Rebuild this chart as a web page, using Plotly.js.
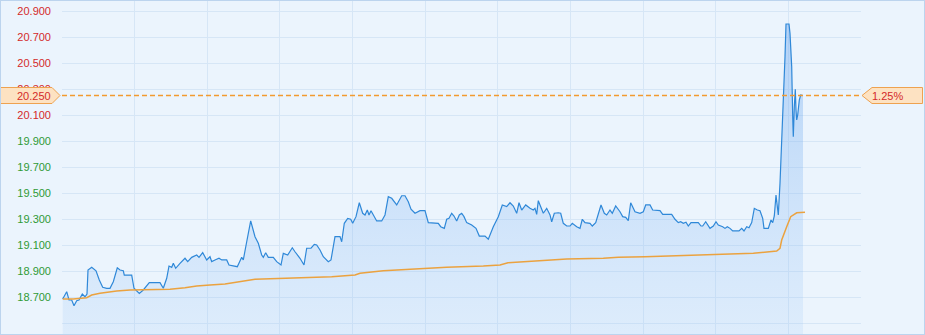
<!DOCTYPE html>
<html><head><meta charset="utf-8">
<script src="https://cdn.plot.ly/plotly-3.0.1.min.js"></script>
<style>
html,body{margin:0;padding:0;background:#ebf4fd;}
#wrap{position:relative;width:925px;height:335px;}
#chart{width:925px;height:335px;}
#frame{position:absolute;left:0;top:0;width:925px;height:335px;box-sizing:border-box;border:1px solid #bcd4ee;pointer-events:none;}
</style></head><body>
<div id="wrap"><div id="chart"></div><div id="frame"></div></div>
<script>
// reference (previous close) and last price
const prevClose = 20.00;
const lastPrice = 20.25;

// intraday price: time position and value
const priceT = [
  0.7,4.7,7,9.7,12,14.7,17,20.3,23,25,26,29.7,34,37.3,40.7,44.7,48,51.3,55.3,58,
  61.3,62.3,69.7,72,77.3,81.3,87.3,98,101.3,104.7,107,109.7,111.3,113.7,118,123,125.7,129.7,134.7,137,
  140.7,144.7,148,
  149.7,153,157,159.7,164.7,167,175.3,179.7,181.3,184.7,188.7,193,196.3,199.7,201.3,203.7,206.3,211.3,214.7,219,
  221.3,225.7,230.3,233,238,242,244.7,249,252.3,254.7,258,261.3,266.3,269,273,278,279.7,282.3,285.7,288.7,
  290.7,
  294,297.3,300.7,303,305.3,307,309,311.3,314.7,319.7,323,326.3,329.7,334.7,339.7,343,346.3,349,353,358,
  363,366.3,371.3,376.3,378.7,382.3,384.7,387,389.7,392,394.7,397.3,399.7,402,404.7,409.7,414,417.3,423,426.3,
  431.3,436.3,
  440.3,444.7,448,451.3,454.7,457,459.7,463.7,468,471.3,473,474.7,476.3,479.7,481.3,484.7,488,489.7,492.3,496.3,
  498.7,501.3,504.7,508,510.3,514.7,518,520.3,523,528,530.3,533.7,536.3,539,542.3,544.7,548,550.3,553.7,558,
  560.7,563.7,566.3,568.7,573,578,
  581.3,583.7,588,590.7,598,600.7,609.7,613,616.3,618.7,621.3,624,626.3,629,636.3,639,640.7,643.7,648,651.3,
  654,656.3,660.7,663,665.3,668,670.7,677,679.7,682,684.7,687,689.7,692.3,695.3,698,700.7,702,706.3,709,
  710.7,712.3,714,715.3,716.3,
  718,719,720.3,721.3,723,724,727,728,729.7,730.7,731.3,732.3,733.3,734,734.7,735.7,737.3,738.7,741
];
const price = [
  18.685,18.741,18.677,18.677,18.633,18.672,18.677,18.723,18.702,18.723,18.908,18.928,18.902,18.831,18.775,18.767,18.767,18.818,18.925,18.908,
  18.902,18.869,18.869,18.767,18.728,18.754,18.810,18.810,18.767,18.844,18.938,18.928,18.959,18.921,18.959,18.998,18.972,19.005,19.023,19.005,
  19.041,18.985,19.010,
  18.972,18.985,18.998,18.985,18.985,18.946,18.933,19.005,18.985,19.125,19.285,19.164,19.113,19.023,19.005,19.041,19.005,19.005,18.972,18.946,
  19.036,19.023,19.079,19.048,18.998,18.946,19.075,19.075,19.105,19.100,19.062,19.010,18.972,18.985,19.164,19.164,19.125,19.267,19.305,19.298,
  19.267,
  19.318,19.425,19.344,19.331,19.369,19.331,19.364,19.331,19.285,19.285,19.331,19.472,19.459,19.408,19.479,19.479,19.433,19.375,19.344,19.364,
  19.364,19.272,19.267,19.267,19.241,19.228,19.298,19.305,19.344,19.323,19.285,19.331,19.344,19.318,19.272,19.254,19.228,19.169,19.169,19.144,
  19.241,19.318,
  19.408,19.395,19.425,19.400,19.344,19.425,19.369,19.408,19.382,19.369,19.382,19.336,19.441,19.382,19.344,19.382,19.331,19.279,19.344,19.348,
  19.344,19.267,19.246,19.246,19.267,19.241,19.228,19.298,19.272,19.267,19.246,19.272,19.344,19.408,19.344,19.331,19.369,19.344,19.400,19.356,
  19.318,19.313,19.287,19.425,19.356,19.344,
  19.356,19.408,19.408,19.369,19.364,19.336,19.336,19.298,19.272,19.279,19.267,19.275,19.246,19.272,19.272,19.246,19.246,19.279,19.228,19.246,
  19.279,19.254,19.241,19.228,19.241,19.228,19.208,19.208,19.228,19.208,19.241,19.233,19.272,19.382,19.369,19.364,19.305,19.228,19.228,19.292,
  19.272,19.323,19.485,19.408,19.331,
  19.575,19.754,20.087,20.241,20.548,20.800,20.800,20.728,20.472,20.087,19.933,20.164,20.298,20.138,20.062,20.100,20.215,20.254,20.250
];

// average price line
const avgT = [0.7,11.3,24.7,29.7,38,54.7,68,84.7,108,123,134.7,148,163,193,219.7,243,269.7,293,298,321.3,
  344.7,371.3,384.7,421.3,438,446,476.3,504.7,541.3,556.3,583,603,653,691.3,714.7,716.3,718,719.7,723,724.7,
  728.7,734.7,743];
const avgPrice = [18.685,18.685,18.695,18.715,18.728,18.746,18.754,18.754,18.759,18.772,18.785,18.792,18.800,18.836,18.844,18.852,18.856,18.869,18.882,18.902,
  18.913,18.921,18.928,18.938,18.946,18.964,18.979,18.992,18.998,19.005,19.010,19.015,19.023,19.036,19.054,19.062,19.075,19.138,19.215,19.241,
  19.318,19.348,19.352];

// axis ticks
const priceTicks = [18.5,18.7,18.9,19.1,19.3,19.5,19.7,19.9,20.1,20.3,20.5,20.7,20.9];
const pctTicks = [-6.5,-5.5,-4.5,-3.5,-2.5,-1.5,-0.5,0.5,1.5,2.5,3.5,4.5];

const sessionLen = 799;
const yRange = [18.4154, 20.9769];

const RED = '#d42a2a', GREEN = '#2f9a35';
const col = v => v >= 0 ? RED : GREEN;
const span = (txt, c) => '<span style="color:' + c + '">' + txt + '</span>';

const priceText = priceTicks.map(v => v === 18.5 ? '' : span(v.toFixed(3), col(v - prevClose)));
const pctText = pctTicks.map(p => span(p.toFixed(2) + '%', col(p)));
const pctRange = yRange.map(v => (v / prevClose - 1) * 100);
const lastPct = (lastPrice / prevClose - 1) * 100;

const traces = [
  {
    x: priceT, y: price, type: 'scatter', mode: 'lines',
    line: {color: '#2f88d8', width: 1.2},
    fill: 'tozeroy',
    fillgradient: {type: 'vertical', start: 18.4, stop: 20.9,
      colorscale: [[0, 'rgba(150,195,245,0.16)'], [1, 'rgba(105,165,238,0.45)']]},
    hoverinfo: 'skip'
  },
  {
    x: avgT, y: avgPrice, type: 'scatter', mode: 'lines',
    line: {color: '#eba23f', width: 1.5},
    hoverinfo: 'skip'
  },
  {
    // last-price reference line across the session
    x: [0, sessionLen], y: [lastPrice, lastPrice], type: 'scatter', mode: 'lines',
    line: {color: '#f29a30', width: 1.6, dash: '5px,3px'},
    hoverinfo: 'skip'
  }
];

const GRID = '#d6e6f6';
const layout = {
  width: 925, height: 335,
  margin: {l: 62, r: 64, t: 1, b: 1, pad: 0},
  paper_bgcolor: '#ebf4fd', plot_bgcolor: '#ebf4fd',
  showlegend: false,
  hovermode: false,
  font: {family: 'Arial, "Liberation Sans", sans-serif', size: 11, color: '#333'},
  xaxis: {range: [0, sessionLen], tick0: 0, dtick: sessionLen / 11, showticklabels: false,
    showgrid: true, gridcolor: GRID, zeroline: false, showline: true, mirror: true,
    linecolor: '#cfe0f2', ticks: '', fixedrange: true},
  yaxis: {range: yRange, tickmode: 'array', tickvals: priceTicks, ticktext: priceText,
    showgrid: true, gridcolor: GRID, zeroline: false, ticks: '', ticklabelstandoff: 10,
    showline: false, fixedrange: true},
  yaxis2: {overlaying: 'y', side: 'right', range: pctRange, tickmode: 'array',
    tickvals: pctTicks, ticktext: pctText, showgrid: false, zeroline: false, ticks: '',
    ticklabelstandoff: 10, showline: false, fixedrange: true},
  shapes: [
    {type: 'path', xref: 'paper', xsizemode: 'pixel', xanchor: 0,
      yref: 'y', ysizemode: 'pixel', yanchor: lastPrice,
      path: 'M -61.5 -8 L -10 -8 L -2 0 L -10 8 L -61.5 8 Z',
      fillcolor: '#fde2c2', line: {color: '#eea250', width: 1}, layer: 'above'},
    {type: 'path', xref: 'paper', xsizemode: 'pixel', xanchor: 1,
      yref: 'y', ysizemode: 'pixel', yanchor: lastPrice,
      path: 'M 1 0 L 11 -8 L 61.5 -8 L 61.5 8 L 11 8 Z',
      fillcolor: '#fde2c2', line: {color: '#eea250', width: 1}, layer: 'above'}
  ],
  annotations: [
    {xref: 'paper', x: 0, xanchor: 'right', xshift: -9, yref: 'y', y: lastPrice, yanchor: 'middle',
      text: lastPrice.toFixed(3), showarrow: false, font: {color: RED, size: 11}},
    {xref: 'paper', x: 1, xanchor: 'left', xshift: 9, yref: 'y', y: lastPrice, yanchor: 'middle',
      text: lastPct.toFixed(2) + '%', showarrow: false, font: {color: RED, size: 11}}
  ]
};

Plotly.newPlot('chart', traces, layout, {staticPlot: true, displayModeBar: false});
</script>
</body></html>
